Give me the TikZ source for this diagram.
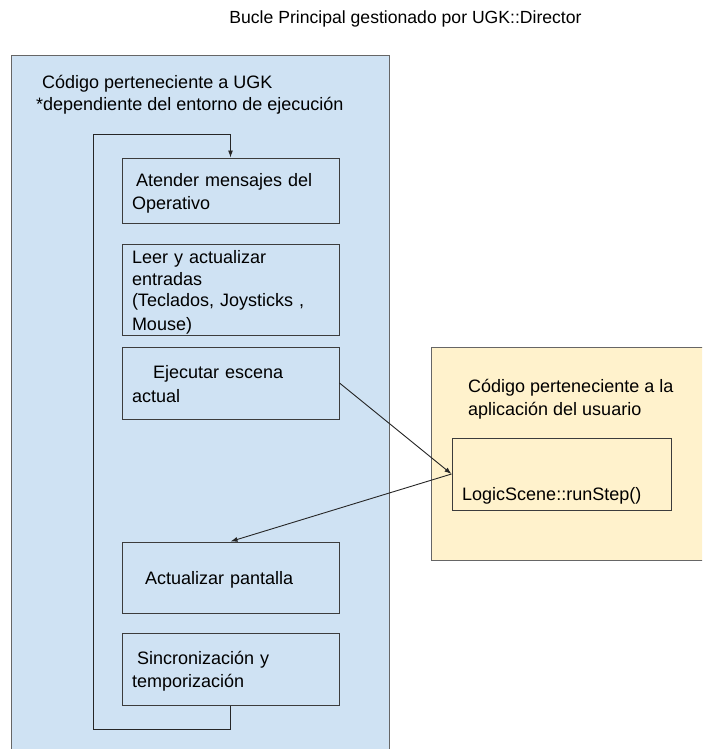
\documentclass[tikz,border=0pt]{standalone}
\usepackage{fontspec}
\setmainfont{Liberation Sans}
\usetikzlibrary{arrows.meta}
\definecolor{azulugk}{HTML}{CFE2F3}
\definecolor{amarilloapp}{HTML}{FFF2CC}
\definecolor{bordemarco}{HTML}{666666}
\definecolor{bordecaja}{HTML}{3C3C3C}
\newcommand{\lineaalta}{\rule[-3.35pt]{0pt}{21.7pt}}
\tikzset{
  marco/.style={draw=bordemarco, line width=1pt},
  caja/.style={draw=bordecaja, line width=1pt, text width=197pt, minimum height=#1,
    inner xsep=10pt, inner ysep=0pt, align=left, font=\fontsize{18}{21.7}\selectfont,
    execute at begin node=\lineaalta, execute at end node=\lineaalta},
  rotulo/.style={anchor=base west, inner sep=0pt, align=left, font=\fontsize{18}{22.5}\selectfont},
  flecha/.style={draw=black!85, line width=0.9pt, -{Latex[length=7pt,width=5pt]}}
}
\begin{document}
\begin{tikzpicture}[x=1pt, y=-1pt]
      \useasboundingbox (0,0) rectangle (702,749);
      \clip (0,0) rectangle (702,749);
      % contenedores
      \draw[marco, fill=azulugk] (11,56) rectangle (389,760);
      \draw[marco, fill=amarilloapp] (431,347) rectangle (710,560);
      \node[rotulo, anchor=base, font=\fontsize{17.6}{22}\selectfont] (titulo) at (405.5,24) {Bucle Principal gestionado por UGK::Director};
      \node[rotulo] (rotugk) at (36,111) {\hspace*{6pt}Código perteneciente a UGK\\{}*dependiente del entorno de ejecución};
      \node[rotulo] (rotapp) at (468,415) {Código perteneciente a la\\aplicación del usuario};
      % pasos del bucle
      \node[caja=65pt] (atender) at (230.5,190.5) {\hspace*{4pt}Atender mensajes del\\Operativo};
      \node[caja=91pt] (leer) at (230.5,289.5) {Leer y actualizar\\entradas\\(Teclados, Joysticks ,\\Mouse)};
      \node[caja=72pt] (ejecutar) at (230.5,383) {\hspace*{21pt}Ejecutar escena\\actual};
      \node[caja=71pt] (actualizar) at (230.5,577.5) {\hspace*{13pt}Actualizar pantalla};
      \node[caja=72pt] (sincro) at (230.5,669) {\hspace*{5pt}Sincronización y\\temporización};
      \node[caja=72pt, text width=199pt] (logic) at (561.5,474) {};
      \node[rotulo] (rotlogic) at (462,500) {LogicScene::runStep()};
      % conexiones
      \coordinate (vueltaabajo) at (93,729);
      \coordinate (vueltaarriba) at (93,134);
      \draw[flecha] (ejecutar.east) -- (logic.west);
      \draw[flecha] (logic.west) -- (actualizar.north);
      \draw[flecha] (sincro.south) |- (vueltaabajo) -- (vueltaarriba) -| (atender.north);
    \end{tikzpicture}
\end{document}
